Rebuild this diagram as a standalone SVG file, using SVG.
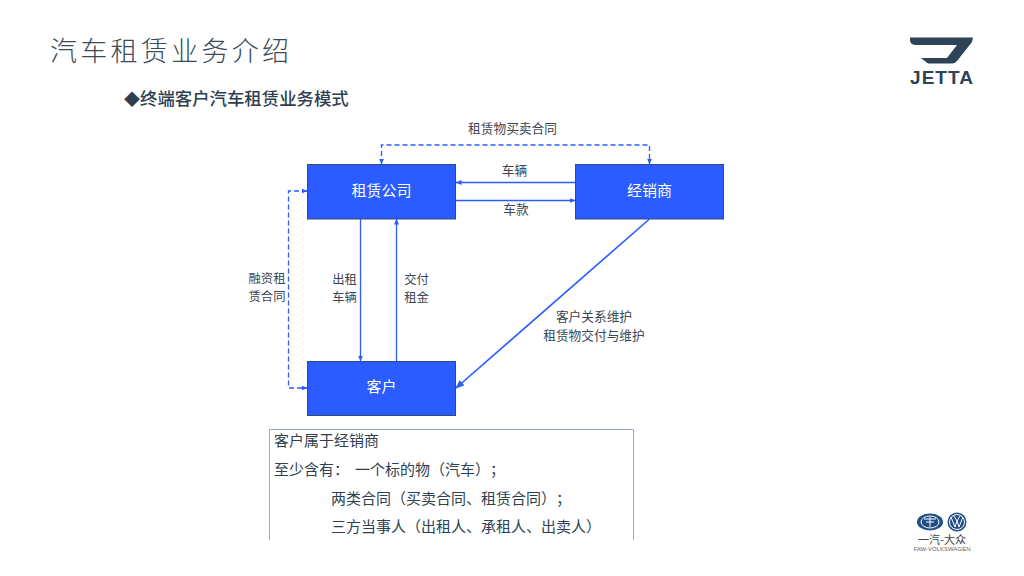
<svg xmlns="http://www.w3.org/2000/svg" width="1024" height="576" viewBox="0 0 1024 576">
<style>
text{font-family:"Noto Sans CJK SC","Noto Sans",sans-serif;fill:#2f3f4f;text-spacing-trim:space-all}
.box{fill:#2b5cff;stroke:#2f4a80;stroke-width:1}
.nl{fill:#fff;font-size:15px;text-anchor:middle}
.lb{font-size:12.700px;fill:#3a4652}
.lb2{font-size:12.300px;fill:#3a4652;text-anchor:middle}
.c{fill:none;stroke:#2b5cff;stroke-width:1.300}
.d{stroke-dasharray:5 3}
.t{font-size:15px;fill:#2f3f4f}
</style>
<defs>
<marker id="a" markerWidth="7" markerHeight="6" refX="5.500" refY="3" orient="auto-start-reverse" markerUnits="userSpaceOnUse"><path d="M0,0.500L6,3L0,5.500z" fill="#2b5cff"/></marker>
<marker id="b" markerWidth="10" markerHeight="8" refX="8" refY="4" orient="auto" markerUnits="userSpaceOnUse"><path d="M0,0.500L9,4L0,7.500z" fill="#2b5cff"/></marker>
</defs>
<rect width="1024" height="576" fill="#fff"/>
<text x="50" y="61" font-size="27" font-weight="300" letter-spacing="3.300" style="fill:#3a4a58">汽车租赁业务介绍</text>
<text x="124" y="105" font-size="16" font-weight="500" style="fill:#2f3f4f">◆<tspan font-size="17.400">终端客户汽车租赁业务模式</tspan></text>
<g id="jetta-logo">
<path d="M910,37.500H973L972,42L957,61Q955,63.500 952,63.500H928L921,58H947L957,45H916Q911,45 910,41z" fill="#2f4356"/>
<text x="910" y="84" font-size="19" font-weight="700" textLength="63" lengthAdjust="spacing" style="font-family:'Liberation Sans',sans-serif;fill:#2f4356">JETTA</text>
</g>
<g id="faw-vw-logo">
<ellipse cx="930" cy="522" rx="13" ry="8.500" fill="#1f4f86"/>
<ellipse cx="930" cy="522" rx="9" ry="6" fill="none" stroke="#fff" stroke-width="1"/>
<path d="M924,519H936M926,522H934M930,517V527" stroke="#fff" stroke-width="1"/>
<circle cx="957" cy="522" r="9.500" fill="#1f4f86"/>
<circle cx="957" cy="522" r="7.500" fill="none" stroke="#fff" stroke-width="1"/>
<path d="M951,517L955,527L957,521L959,527L963,517M954,516L957,521L960,516" fill="none" stroke="#fff" stroke-width="1"/>
<text x="942" y="544" font-size="11" text-anchor="middle" style="fill:#444">一汽-大众</text>
<text x="942" y="551" font-size="6" text-anchor="middle" style="font-family:'Liberation Sans',sans-serif;fill:#666">FAW-VOLKSWAGEN</text>
</g>
<g id="node-lessor"><rect class="box" x="307.500" y="164.500" width="148" height="54.500"/><text class="nl" x="381.500" y="196">租赁公司</text></g>
<g id="node-dealer"><rect class="box" x="575.500" y="164.500" width="148" height="54.500"/><text class="nl" x="649.500" y="196">经销商</text></g>
<g id="node-customer"><rect class="box" x="307.500" y="361.500" width="148" height="54"/><text class="nl" x="381.500" y="392">客户</text></g>
<g id="connectors">
<path class="c d" marker-start="url(#a)" marker-end="url(#a)" d="M381.500,164V145H649.500V164"/>
<path class="c" marker-end="url(#a)" d="M575,182.500H456"/>
<path class="c" marker-end="url(#a)" d="M456,200.500H575"/>
<path class="c" marker-end="url(#a)" d="M360.500,219V361"/>
<path class="c" marker-end="url(#a)" d="M396.500,361V219"/>
<path class="c d" marker-start="url(#a)" marker-end="url(#a)" d="M307,191H288.500V388H307"/>
<path class="c" style="stroke-width:1.600" marker-end="url(#b)" d="M649.500,219L456,388"/>
</g>
<g id="labels">
<text class="lb" x="512.500" y="133" text-anchor="middle">租赁物买卖合同</text>
<text class="lb" x="514.500" y="175" text-anchor="middle">车辆</text>
<text class="lb" x="516" y="214" text-anchor="middle">车款</text>
<text class="lb2" x="267" y="283">融资租</text>
<text class="lb2" x="267" y="301">赁合同</text>
<text class="lb2" x="344.500" y="283.500">出租</text>
<text class="lb2" x="344.500" y="301.500">车辆</text>
<text class="lb2" x="416.500" y="283.500">交付</text>
<text class="lb2" x="416.500" y="301.500">租金</text>
<text class="lb" x="594" y="321" text-anchor="middle">客户关系维护</text>
<text class="lb" x="594" y="339.500" text-anchor="middle">租赁物交付与维护</text>
</g>
<g id="note">
<path d="M269.500,540V429.500H633.500V540" fill="none" stroke="#9aa6c8" stroke-width="1"/>
<text class="t" x="274" y="446">客户属于经销商</text>
<text class="t" x="274" y="475">至少含有：</text>
<text class="t" x="355" y="475">一个标的物（汽车）；</text>
<text class="t" x="331" y="504">两类合同（买卖合同、租赁合同）；</text>
<text class="t" x="331" y="532">三方当事人（出租人、承租人、出卖人）</text>
</g>
</svg>
